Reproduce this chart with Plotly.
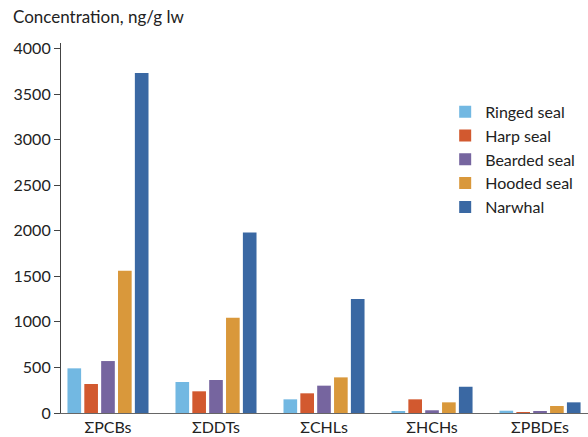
import plotly.graph_objects as go

categories = ["ΣPCBs", "ΣDDTs", "ΣCHLs", "ΣHCHs", "ΣPBDEs"]
ringed_seal = [490, 340, 150, 15, 25]
harp_seal = [318, 238, 216, 150, 8]
bearded_seal = [570, 362, 300, 30, 15]
hooded_seal = [1560, 1045, 391, 117, 77]
narwhal = [3730, 1980, 1250, 288, 117]

series = [
    ("Ringed seal", ringed_seal, "#72b8e2"),
    ("Harp seal", harp_seal, "#d2592f"),
    ("Bearded seal", bearded_seal, "#76659f"),
    ("Hooded seal", hooded_seal, "#d9983b"),
    ("Narwhal", narwhal, "#3a68a3"),
]

font_family = "Lato, 'Open Sans', sans-serif"

fig = go.Figure()
for name, vals, col in series:
    fig.add_trace(go.Bar(x=categories, y=vals, name=name, marker=dict(color=col, line=dict(width=0))))

fig.update_layout(
    width=588, height=437,
    margin=dict(l=61, r=0, t=43, b=24),
    paper_bgcolor="white", plot_bgcolor="white",
    barmode="group", bargap=0.22, bargroupgap=0.19,
    font=dict(family=font_family, size=16, color="#222"),
    showlegend=True,
    legend=dict(x=0.729, y=0.86, xanchor="left", yanchor="top",
                font=dict(size=16, color="#222"), tracegroupgap=0,
                itemwidth=30, bgcolor="rgba(0,0,0,0)"),
    xaxis=dict(range=[-0.435, 4.444], showline=True, linecolor="#666", linewidth=1.2,
               ticks="", showgrid=False, zeroline=False,
               tickfont=dict(size=16, color="#222")),
    yaxis=dict(range=[0, 4060], tickvals=[0, 500, 1000, 1500, 2000, 2500, 3000, 3500, 4000],
               showline=True, linecolor="#444", linewidth=1.2, ticks="outside", ticklen=6,
               tickcolor="#444", showgrid=False, zeroline=False,
               tickfont=dict(size=16, color="#222")),
    annotations=[dict(text="Concentration, ng/g lw", x=-50/527, y=1.0, xref="paper", yref="paper",
                      xanchor="left", yanchor="bottom", yshift=14, showarrow=False,
                      font=dict(size=17, color="#222"))],
)

fig.write_html("out.html", config={"displayModeBar": False},
               post_script="document.body.style.margin='0';document.body.style.overflow='hidden';")
